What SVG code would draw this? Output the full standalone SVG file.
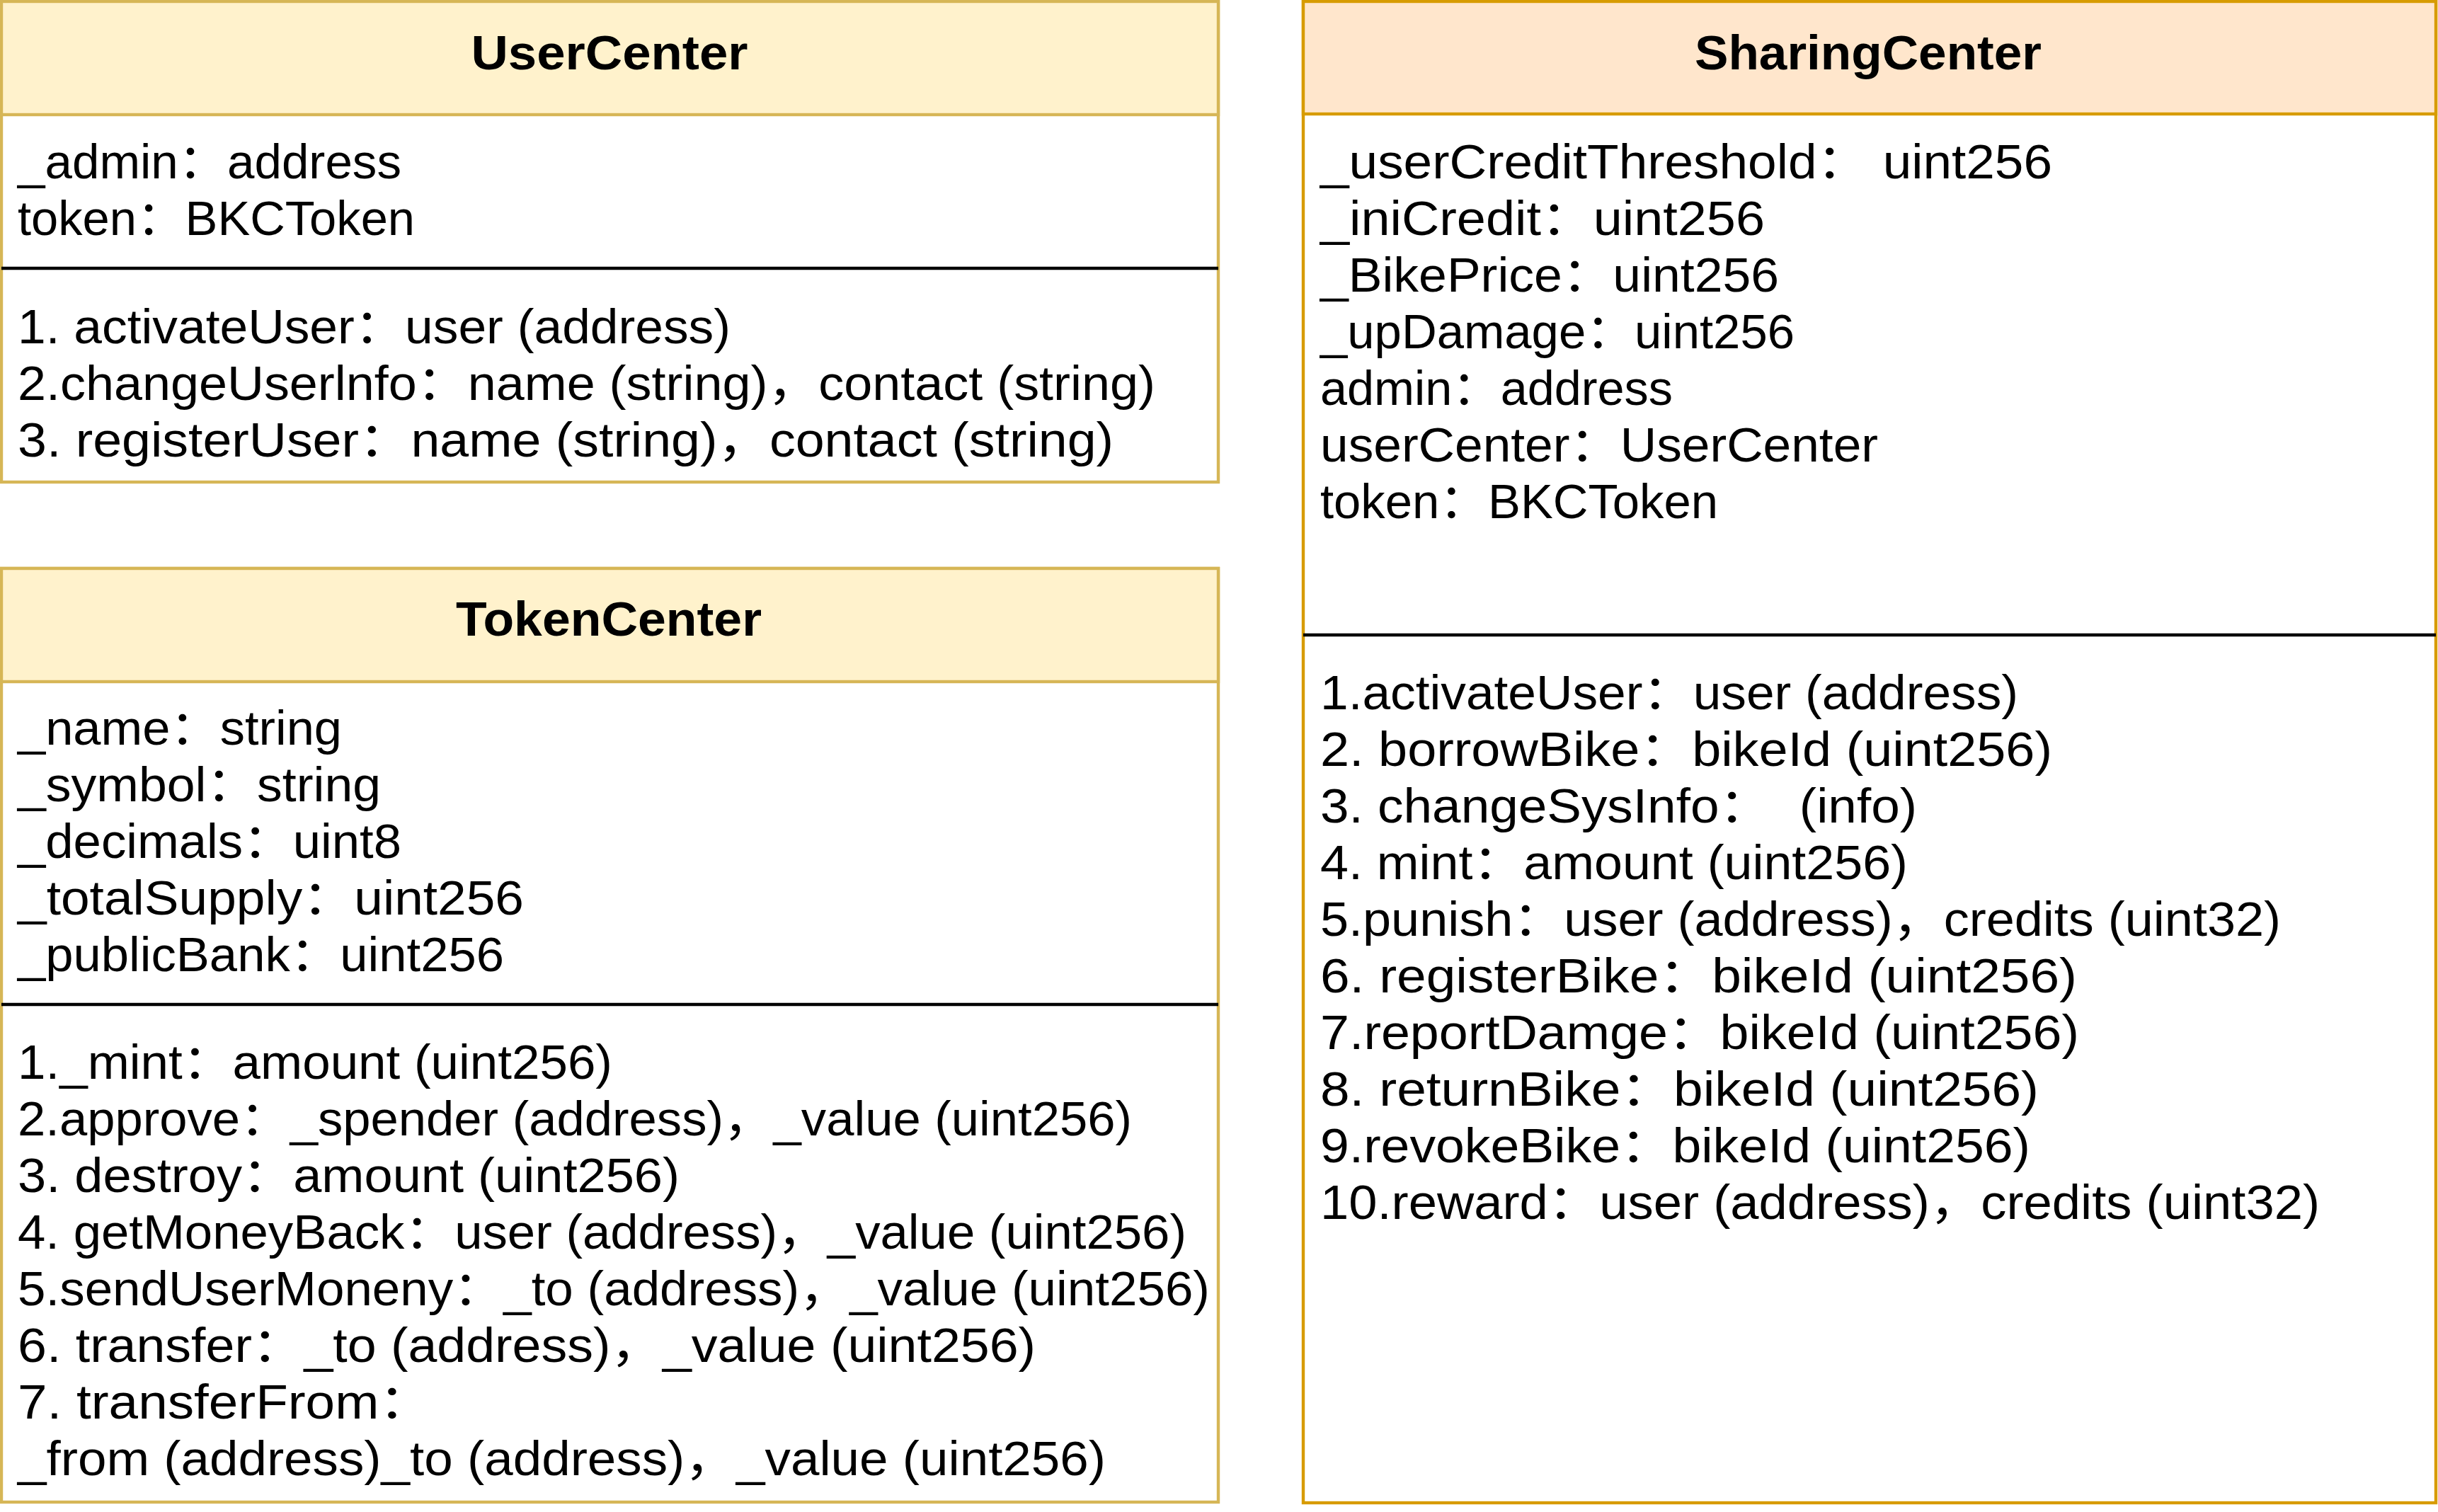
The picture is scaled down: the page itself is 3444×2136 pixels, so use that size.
<svg xmlns="http://www.w3.org/2000/svg" width="3444" height="2136" viewBox="0 0 3444 2136">
<style>
text{font-family:"Comic Sans MS","Liberation Sans","Noto Sans CJK SC",sans-serif;font-size:68px;fill:#000;white-space:pre}
.t{font-weight:bold;text-anchor:middle}
.y{fill:#fff2cc;stroke:#d6b656;stroke-width:4.4}
.o{fill:#ffe6cc;stroke:#d79b00;stroke-width:4.4}
.yb{fill:#fff;stroke:#d6b656;stroke-width:4.4}
.ob{fill:#fff;stroke:#d79b00;stroke-width:4.4}
.div{stroke:#000;stroke-width:4.4}
</style>
<rect width="3444" height="2136" fill="#fff"/>
<g id="UserCenter">
<rect class="yb" x="2" y="2" width="1719" height="679"/>
<rect class="y" x="2" y="2" width="1719" height="160"/>
<line class="div" x1="2" y1="379" x2="1721" y2="379"/>
<text class="t" x="861" y="98" textLength="391" lengthAdjust="spacingAndGlyphs">UserCenter</text>
<text x="25" y="252" textLength="542" lengthAdjust="spacingAndGlyphs">_admin：address</text>
<text x="25" y="332" textLength="561" lengthAdjust="spacingAndGlyphs">token：BKCToken</text>
<text x="25" y="485" textLength="1007" lengthAdjust="spacingAndGlyphs">1. activateUser：user (address)</text>
<text x="25" y="565" textLength="1607" lengthAdjust="spacingAndGlyphs">2.changeUserlnfo：name (string)，contact (string)</text>
<text x="25" y="645" textLength="1548" lengthAdjust="spacingAndGlyphs">3. registerUser：name (string)，contact (string)</text>
</g>
<g id="TokenCenter">
<rect class="yb" x="2" y="803" width="1719" height="1319"/>
<rect class="y" x="2" y="803" width="1719" height="160"/>
<line class="div" x1="2" y1="1419" x2="1721" y2="1419"/>
<text class="t" x="860" y="898" textLength="432" lengthAdjust="spacingAndGlyphs">TokenCenter</text>
<text x="25" y="1052" textLength="458" lengthAdjust="spacingAndGlyphs">_name：string</text>
<text x="25" y="1132" textLength="513" lengthAdjust="spacingAndGlyphs">_symbol：string</text>
<text x="25" y="1212" textLength="542" lengthAdjust="spacingAndGlyphs">_decimals：uint8</text>
<text x="25" y="1292" textLength="715" lengthAdjust="spacingAndGlyphs">_totalSupply：uint256</text>
<text x="25" y="1372" textLength="687" lengthAdjust="spacingAndGlyphs">_publicBank：uint256</text>
<text x="25" y="1524" textLength="840" lengthAdjust="spacingAndGlyphs">1._mint：amount (uint256)</text>
<text x="25" y="1604" textLength="1574" lengthAdjust="spacingAndGlyphs">2.approve：_spender (address)，_value (uint256)</text>
<text x="25" y="1684" textLength="935" lengthAdjust="spacingAndGlyphs">3. destroy：amount (uint256)</text>
<text x="25" y="1764" textLength="1651" lengthAdjust="spacingAndGlyphs">4. getMoneyBack：user (address)，_value (uint256)</text>
<text x="25" y="1844" textLength="1684" lengthAdjust="spacingAndGlyphs">5.sendUserMoneny：_to (address)，_value (uint256)</text>
<text x="25" y="1924" textLength="1438" lengthAdjust="spacingAndGlyphs">6. transfer：_to (address)，_value (uint256)</text>
<text x="25" y="2004" textLength="585" lengthAdjust="spacingAndGlyphs">7. transferFrom：</text>
<text x="25" y="2084" textLength="1537" lengthAdjust="spacingAndGlyphs">_from (address)_to (address)，_value (uint256)</text>
</g>
<g id="SharingCenter">
<rect class="ob" x="1841" y="2" width="1600" height="2121"/>
<rect class="o" x="1841" y="2" width="1600" height="159"/>
<line class="div" x1="1841" y1="897" x2="3441" y2="897"/>
<text class="t" x="2639" y="98" textLength="490" lengthAdjust="spacingAndGlyphs">SharingCenter</text>
<text x="1865" y="252" textLength="1034" lengthAdjust="spacingAndGlyphs">_userCreditThreshold： uint256</text>
<text x="1865" y="332" textLength="628" lengthAdjust="spacingAndGlyphs">_iniCredit：uint256</text>
<text x="1865" y="412" textLength="648" lengthAdjust="spacingAndGlyphs">_BikePrice：uint256</text>
<text x="1865" y="492" textLength="670" lengthAdjust="spacingAndGlyphs">_upDamage：uint256</text>
<text x="1865" y="572" textLength="498" lengthAdjust="spacingAndGlyphs">admin：address</text>
<text x="1865" y="652" textLength="788" lengthAdjust="spacingAndGlyphs">userCenter：UserCenter</text>
<text x="1865" y="732" textLength="562" lengthAdjust="spacingAndGlyphs">token：BKCToken</text>
<text x="1865" y="1002" textLength="986" lengthAdjust="spacingAndGlyphs">1.activateUser：user (address)</text>
<text x="1865" y="1082" textLength="1034" lengthAdjust="spacingAndGlyphs">2. borrowBike：bikeId (uint256)</text>
<text x="1865" y="1162" textLength="843" lengthAdjust="spacingAndGlyphs">3. changeSysInfo：  (info)</text>
<text x="1865" y="1242" textLength="830" lengthAdjust="spacingAndGlyphs">4. mint：amount (uint256)</text>
<text x="1865" y="1322" textLength="1357" lengthAdjust="spacingAndGlyphs">5.punish：user (address)，credits (uint32)</text>
<text x="1865" y="1402" textLength="1069" lengthAdjust="spacingAndGlyphs">6. registerBike：bikeId (uint256)</text>
<text x="1865" y="1482" textLength="1072" lengthAdjust="spacingAndGlyphs">7.reportDamge：bikeId (uint256)</text>
<text x="1865" y="1562" textLength="1015" lengthAdjust="spacingAndGlyphs">8. returnBike：bikeId (uint256)</text>
<text x="1865" y="1642" textLength="1003" lengthAdjust="spacingAndGlyphs">9.revokeBike：bikeId (uint256)</text>
<text x="1865" y="1722" textLength="1412" lengthAdjust="spacingAndGlyphs">10.reward：user (address)，credits (uint32)</text>
</g>
<g id="connectors"/>
</svg>
